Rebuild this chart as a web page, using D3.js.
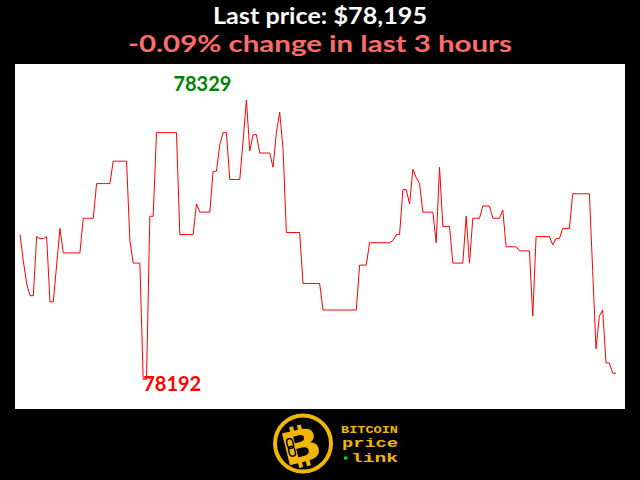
<!DOCTYPE html>
<html>
<head>
<meta charset="utf-8">
<script src="https://cdn.jsdelivr.net/npm/d3@7"></script>
<style>
  html, body { margin: 0; padding: 0; background: #000; }
  svg { display: block; }
</style>
</head>
<body>
<svg id="chart" width="640" height="480"></svg>
<script>
// ---- data (one price per minute, last 3 hours) ----
const prices = [
  78263,78250,78239,78233,78233,78262,78261,78261,78262,78230,
  78230,78248,78266,78254,78254,78254,78254,78254,78254,78271,
  78271,78271,78271,78288,78288,78288,78288,78288,78299,78299,
  78299,78299,78299,78260,78249,78249,78249,78192,78192,78272,
  78272,78313,78313,78313,78313,78313,78313,78313,78263,78263,
  78263,78263,78263,78278,78274,78274,78274,78274,78294,78294,
  78307,78313,78313,78290,78290,78290,78290,78309,78329,78304,
  78312,78312,78303,78303,78303,78303,78296,78313,78323,78305,
  78264,78264,78264,78264,78264,78239,78239,78239,78239,78239,
  78239,78226,78226,78226,78226,78226,78226,78226,78226,78226,
  78226,78226,78248,78248,78248,78259,78259,78259,78259,78259,
  78259,78259,78260,78263,78263,78285,78285,78278,78295,78291,
  78288,78274,78274,78274,78274,78259,78296,78267,78267,78267,
  78249,78249,78249,78249,78272,78249,78271,78271,78271,78277,
  78277,78277,78271,78271,78271,78275,78257,78257,78257,78257,
  78255,78255,78255,78255,78223,78262,78262,78262,78262,78262,
  78258,78261,78261,78266,78266,78266,78283,78283,78283,78283,
  78283,78283,78245,78207,78223,78226,78200,78200,78195,78195
];
const titleText = "Last price: $78,195";
const subtitleText = "-0.09% change in last 3 hours";
const logoLines = ["BITCOIN", "price", "link"];

// ---- layout ----
const svg = d3.select("#chart");
svg.append("rect").attr("x", 0).attr("y", 0).attr("width", 640).attr("height", 480).attr("fill", "#000");

const plot = { x: 15, y: 64, w: 610, h: 345 };
svg.append("rect")
  .attr("x", plot.x).attr("y", plot.y)
  .attr("width", plot.w).attr("height", plot.h)
  .attr("fill", "#fff");

const minV = d3.min(prices), maxV = d3.max(prices);
const minI = prices.indexOf(minV), maxI = prices.indexOf(maxV);

const x = d3.scaleLinear().domain([0, prices.length - 1]).range([20, 616]);
const y = d3.scaleLinear().domain([minV, maxV]).range([379.3, 100]);

const line = d3.line().x((d, i) => x(i)).y(d => y(d));
svg.append("path")
  .datum(prices)
  .attr("d", line)
  .attr("fill", "none")
  .attr("stroke", "#ff0000")
  .attr("stroke-width", 1)
  .attr("stroke-linejoin", "round");

// max / min labels
svg.append("text")
  .attr("x", x(maxI) - 44).attr("y", y(maxV) - 9)
  .attr("text-anchor", "middle")
  .attr("font-family", "Lato, 'Open Sans', sans-serif")
  .attr("font-weight", "bold").attr("font-size", 20)
  .attr("fill", "#008000")
  .text(maxV);
svg.append("text")
  .attr("x", x(minI) + 0).attr("y", y(minV) + 12)
  .attr("text-anchor", "start")
  .attr("font-family", "Lato, 'Open Sans', sans-serif")
  .attr("font-weight", "bold").attr("font-size", 20)
  .attr("fill", "#ff0000")
  .text(minV);

// titles
svg.append("text")
  .attr("x", 320).attr("y", 24)
  .attr("text-anchor", "middle")
  .attr("font-family", "Lato, 'Open Sans', sans-serif")
  .attr("font-weight", "bold").attr("font-size", 22)
  .attr("textLength", 214).attr("lengthAdjust", "spacingAndGlyphs")
  .attr("fill", "#fff")
  .text(titleText);
svg.append("text")
  .attr("x", 320).attr("y", 52)
  .attr("text-anchor", "middle")
  .attr("font-family", "Lato, 'Open Sans', sans-serif")
  .attr("font-weight", "bold").attr("font-size", 23.5)
  .attr("textLength", 384).attr("lengthAdjust", "spacingAndGlyphs")
  .attr("fill", "#ff6b6b")
  .text(subtitleText);

// ---- logo ----
const gold = "#f2b705";
const logo = svg.append("g");
logo.append("circle").attr("cx", 303).attr("cy", 443.5).attr("r", 28)
  .attr("fill", "#000").attr("stroke", gold).attr("stroke-width", 4);
const bg = logo.append("g").attr("transform", "translate(301,446) rotate(-14)");
bg.append("text")
  .attr("x", 0).attr("y", 16)
  .attr("text-anchor", "middle")
  .attr("transform", "scale(1.18,1)")
  .attr("font-family", "'DejaVu Sans', sans-serif")
  .attr("font-weight", "bold").attr("font-size", 45)
  .attr("fill", gold)
  .text("B");
// bitcoin ticks
[-7, 1].forEach(dx => {
  bg.append("rect").attr("x", dx).attr("y", -21).attr("width", 4).attr("height", 6).attr("fill", gold);
  bg.append("rect").attr("x", dx).attr("y", 15).attr("width", 4).attr("height", 6).attr("fill", gold);
});
// chain-link hint on the stem
bg.append("rect").attr("x", -13).attr("y", -10).attr("width", 6).attr("height", 10).attr("rx", 3)
  .attr("fill", "none").attr("stroke", "#000").attr("stroke-width", 1.4);
bg.append("rect").attr("x", -13).attr("y", -2).attr("width", 6).attr("height", 10).attr("rx", 3)
  .attr("fill", "none").attr("stroke", "#000").attr("stroke-width", 1.4);

const lines = [
  { t: logoLines[0], x: 341, y: 432.8, size: 11.5 },
  { t: logoLines[1], x: 342, y: 447.3, size: 13 },
  { t: logoLines[2], x: 351, y: 462, size: 13 }
];
lines.forEach(l => {
  logo.append("text")
    .attr("x", l.x).attr("y", l.y)
    .attr("font-family", "'Liberation Mono', 'DejaVu Sans Mono', monospace")
    .attr("font-weight", "bold").attr("font-size", l.size)
    .attr("textLength", 398 - l.x).attr("lengthAdjust", "spacingAndGlyphs")
    .attr("fill", gold)
    .text(l.t);
});
logo.append("rect").attr("x", 344).attr("y", 456.5).attr("width", 3.5).attr("height", 3).attr("fill", "#22c33a");
</script>
</body>
</html>
